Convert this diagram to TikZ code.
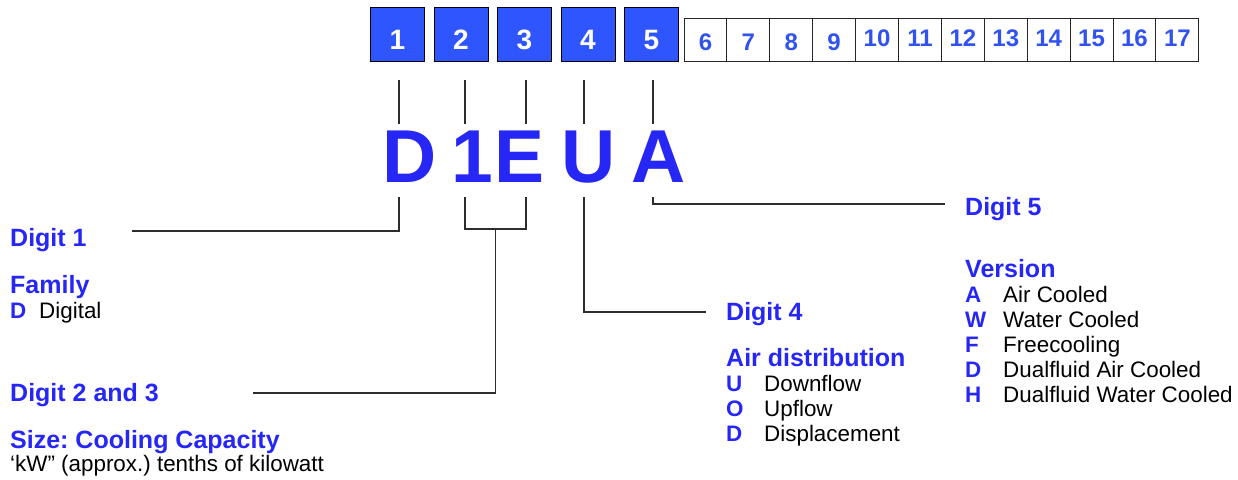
\documentclass[tikz,border=0pt]{standalone}
\usepackage{fontspec}
\setmainfont{Liberation Sans}
\usetikzlibrary{positioning}
\definecolor{codeblue}{RGB}{38,38,245}
\definecolor{boxblue}{RGB}{47,85,255}
\definecolor{cellblue}{RGB}{50,82,240}
\definecolor{leadgray}{RGB}{45,45,45}
\tikzset{
    digitbox/.style={draw=black, line width=1pt, fill=boxblue, minimum width=54pt, minimum height=54pt, inner sep=0pt, outer sep=0pt, text=white, text height=30pt, text depth=0pt, font=\fontsize{28}{28}\selectfont\bfseries},
    cellbox/.style={draw=black!85, line width=1pt, fill=white, minimum width=42.9pt, minimum height=43pt, inner sep=0pt, outer sep=0pt, text=cellblue, text height=22pt, text depth=0pt, font=\fontsize{24}{24}\selectfont\bfseries},
    highcell/.style={text height=14pt},
    bigletter/.style={anchor=base, inner sep=0pt, text=codeblue, font=\fontsize{75}{75}\selectfont\bfseries},
    digitlabel/.style={anchor=base west, inner sep=0pt, text=codeblue, font=\fontsize{25}{25}\selectfont\bfseries},
    infoblock/.style={anchor=base west, inner sep=0pt, font=\fontsize{22.4}{25}\selectfont\frenchspacing},
    leader/.style={draw=leadgray, line width=1.2pt}
}
\newcommand{\codeopt}[3][38pt]{\makebox[#1][l]{\textcolor{codeblue}{\bfseries #2}}#3}
\newcommand{\codehead}[1]{\textcolor{codeblue}{\fontsize{25}{25}\selectfont\bfseries #1}}
\newenvironment{codelist}{\begin{tabular}[t]{@{}l@{}}}{\end{tabular}}

\begin{document}
\begin{tikzpicture}[x=1pt, y=-1pt]
  \useasboundingbox (0,0) rectangle (1238,479);
  % the five used digits
  \node[digitbox] (b1) at (397.5,34) {1};
  \node[digitbox, right=9.5pt of b1] (b2) {2};
  \node[digitbox, right=9.5pt of b2] (b3) {3};
  \node[digitbox, right=9.5pt of b3] (b4) {4};
  \node[digitbox, right=9.5pt of b4] (b5) {5};
  % remaining positions
  \node[cellbox] (w6) at (705.45,39.5) {6};
  \node[cellbox, right=0pt of w6]  (w7)  {7};
  \node[cellbox, right=0pt of w7]  (w8)  {8};
  \node[cellbox, right=0pt of w8]  (w9)  {9};
  \node[cellbox, highcell, right=0pt of w9]  (w10) {10};
  \node[cellbox, highcell, right=0pt of w10] (w11) {11};
  \node[cellbox, highcell, right=0pt of w11] (w12) {12};
  \node[cellbox, highcell, right=0pt of w12] (w13) {13};
  \node[cellbox, highcell, right=0pt of w13] (w14) {14};
  \node[cellbox, highcell, right=0pt of w14] (w15) {15};
  \node[cellbox, highcell, right=0pt of w15] (w16) {16};
  \node[cellbox, highcell, right=0pt of w16] (w17) {17};
  % the code
  \node[bigletter] (lD) at (410,182)   {D};
  \node[bigletter] (l1) at (472,182)   {1};
  \node[bigletter] (lE) at (520,182)   {E};
  \node[bigletter] (lU) at (588.5,182) {U};
  \node[bigletter] (lA) at (659,182)   {A};
  % ticks between boxes and code
  \coordinate (t1) at (399,80);
  \coordinate (t2) at (465,80);
  \coordinate (t3) at (526,80);
  \coordinate (t4) at (584,80);
  \coordinate (t5) at (653,80);
  \draw[leader] (t1) -- ++(0,44);
  \draw[leader] (t2) -- ++(0,44);
  \draw[leader] (t3) -- ++(0,44);
  \draw[leader] (t4) -- ++(0,44);
  \draw[leader] (t5) -- ++(0,44);
  % labels
  \node[digitlabel] (dig1)  at (10,246)  {Digit 1};
  \node[infoblock]  (fam)   at (10,293)  {\begin{codelist}\codehead{Family}\\ \codeopt[29pt]{D}{Digital}\end{codelist}};
  \node[digitlabel] (dig23) at (10,401)  {Digit 2 and 3};
  \node[infoblock]  (size)  at (10,448)  {\begin{codelist}\codehead{Size: Cooling Capacity}\\[-2pt] ‘kW” (approx.) tenths of kilowatt\end{codelist}};
  \node[digitlabel] (dig4)  at (726,320) {Digit 4};
  \node[infoblock]  (air)   at (726,366) {\begin{codelist}\codehead{Air distribution}\\ \codeopt{U}{Downflow}\\ \codeopt{O}{Upflow}\\ \codeopt{D}{Displacement}\end{codelist}};
  \node[digitlabel] (dig5)  at (965,215) {Digit 5};
  \node[infoblock]  (ver)   at (965,277) {\begin{codelist}\codehead{Version}\\ \codeopt{A}{Air Cooled}\\ \codeopt{W}{Water Cooled}\\ \codeopt{F}{Freecooling}\\ \codeopt{D}{Dualfluid Air Cooled}\\ \codeopt{H}{Dualfluid Water Cooled}\end{codelist}};
  % leaders from code to labels
  \coordinate (k1) at (399,197);
  \coordinate (k2) at (465,197);
  \coordinate (k3) at (526,197);
  \coordinate (k4) at (584,197);
  \coordinate (k5) at (653,197);
  \coordinate (e1) at (132,231);
  \coordinate (e23) at (253,393);
  \coordinate (e4) at (706,312);
  \coordinate (e5) at (945,204);
  \draw[leader] (k1) |- (e1);
  \draw[leader] (k2) -- ++(0,32) -| (k3);
  \draw[leader] (495.5,229) |- (e23);
  \draw[leader] (k4) |- (e4);
  \draw[leader] (k5) |- (e5);
\end{tikzpicture}
\end{document}
